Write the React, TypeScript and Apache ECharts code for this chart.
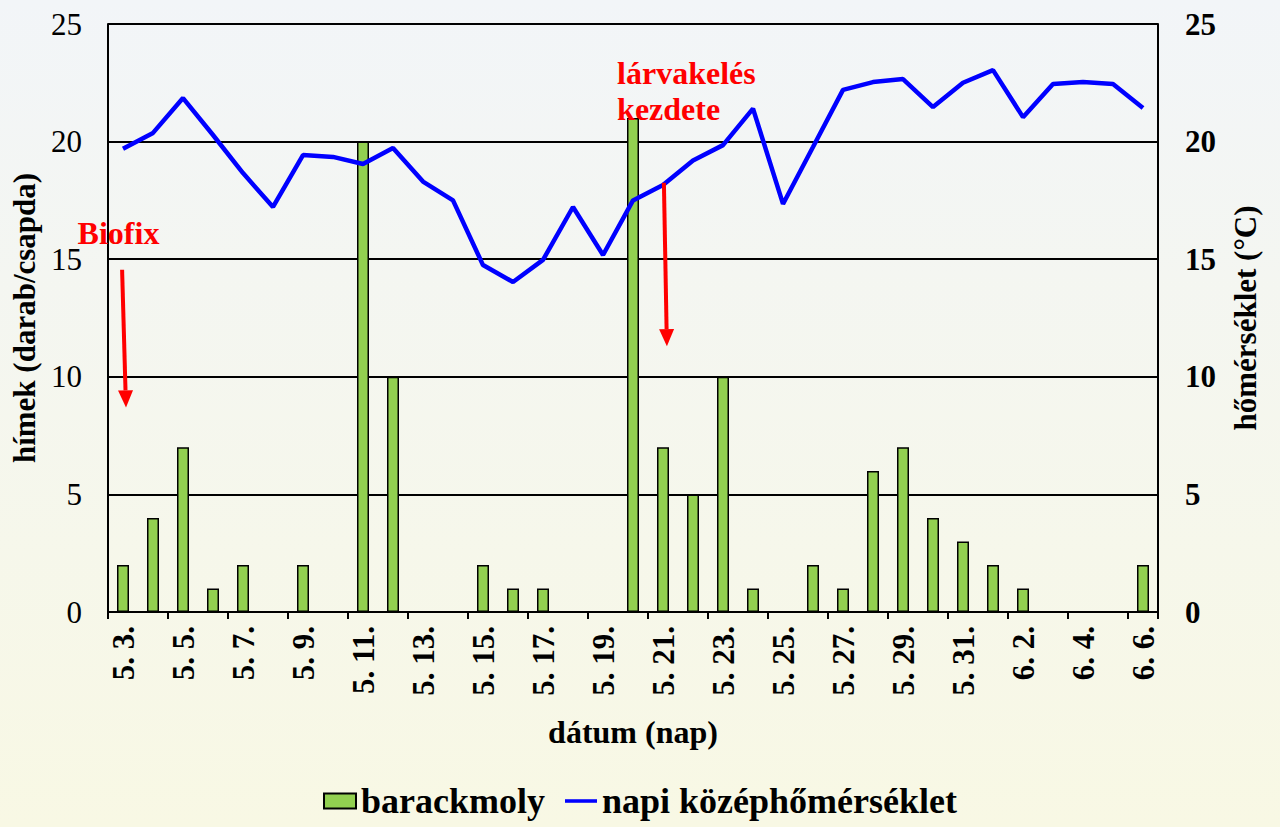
import React, { useEffect, useRef } from "react";
import * as echarts from "echarts";

const dates = [
  "5. 3.", "5. 4.", "5. 5.", "5. 6.", "5. 7.", "5. 8.", "5. 9.", "5. 10.", "5. 11.", "5. 12.",
  "5. 13.", "5. 14.", "5. 15.", "5. 16.", "5. 17.", "5. 18.", "5. 19.", "5. 20.", "5. 21.", "5. 22.",
  "5. 23.", "5. 24.", "5. 25.", "5. 26.", "5. 27.", "5. 28.", "5. 29.", "5. 30.", "5. 31.",
  "6. 1.", "6. 2.", "6. 3.", "6. 4.", "6. 5.", "6. 6.",
];

const mothCounts = [
  2, 4, 7, 1, 2, 0, 2, 0, 20, 10,
  0, 0, 2, 1, 1, 0, 0, 21, 7, 5,
  10, 1, 0, 2, 1, 6, 7, 4, 3,
  2, 1, 0, 0, 0, 2,
];

const meanTemps = [
  19.7, 20.37, 21.85, 20.28, 18.66, 17.22, 19.43, 19.35, 19.05, 19.73,
  18.3, 17.5, 14.75, 14.03, 14.97, 17.22, 15.18, 17.5, 18.15, 19.2,
  19.85, 21.4, 17.35, 19.77, 22.2, 22.53, 22.66, 21.47, 22.5,
  23.04, 21.04, 22.45, 22.53, 22.45, 21.43,
];

const leftTicks = { min: 0, max: 25, interval: 5 };
const rightTicks = { min: 0, max: 25, interval: 5 };

const barName = "barackmoly";
const lineName = "napi középhőmérséklet";
const leftAxisName = "hímek (darab/csapda)";
const rightAxisName = "hőmérséklet (°C)";
const xAxisName = "dátum (nap)";

// annotations: [category index (fractional), value on left axis]
const biofixText = "Biofix";
const biofixTextPos = [-0.15, 16.1];
const biofixArrow = [[-0.03, 14.55], [0.1, 8.7]];
const larvaText = "lárvakelés\nkezdete";
const larvaTextPos = [16.47, 23.7];
const larvaArrow = [[18.03, 18.25], [18.13, 11.3]];

const FONT = "'Liberation Serif', 'Times New Roman', serif";

export default function App() {
  const ref = useRef<HTMLDivElement>(null);

  useEffect(() => {
    if (!ref.current) return;
    const chart = echarts.init(ref.current, null, { renderer: "svg" });
    chart.setOption({
      animation: false,
      backgroundColor: {
        type: "linear", x: 0, y: 0, x2: 0, y2: 1,
        colorStops: [
          { offset: 0, color: "#f2f5f8" },
          { offset: 1, color: "#f8f8e4" },
        ],
      },
      textStyle: { fontFamily: FONT, color: "#000" },
      grid: { left: 108, right: 122, top: 24, bottom: 215, containLabel: false },
      legend: {
        bottom: 3,
        left: "center",
        itemWidth: 32,
        itemHeight: 15,
        itemGap: 20,
        textStyle: { fontFamily: FONT, fontSize: 36, fontWeight: "bold", color: "#000" },
        data: [
          { name: barName, icon: "rect" },
          { name: lineName, icon: "path://M0,0 L36,0 L36,4 L0,4 Z" },
        ],
      },
      xAxis: {
        type: "category",
        data: dates,
        boundaryGap: true,
        name: xAxisName,
        nameLocation: "middle",
        nameGap: 104,
        nameTextStyle: { fontFamily: FONT, fontSize: 32, fontWeight: "bold", color: "#000" },
        axisLine: { show: true, lineStyle: { color: "#000", width: 2 } },
        axisTick: { show: true, interval: 1, length: 7, lineStyle: { color: "#000", width: 2 } },
        axisLabel: {
          interval: 1,
          rotate: 90,
          margin: 14,
          fontFamily: FONT,
          fontSize: 31,
          fontWeight: "bold",
          color: "#000",
        },
        splitLine: { show: false },
      },
      yAxis: [
        {
          type: "value",
          ...leftTicks,
          position: "left",
          name: leftAxisName,
          nameLocation: "middle",
          nameGap: 66,
          nameRotate: 90,
          nameTextStyle: { fontFamily: FONT, fontSize: 31, fontWeight: "bold", color: "#000" },
          axisLine: { show: true, lineStyle: { color: "#000", width: 2 } },
          axisTick: { show: false },
          axisLabel: { margin: 26, fontFamily: FONT, fontSize: 31, color: "#000" },
          splitLine: { show: true, lineStyle: { color: "#000", width: 2 } },
        },
        {
          type: "value",
          ...rightTicks,
          position: "right",
          name: rightAxisName,
          nameLocation: "middle",
          nameGap: 72,
          nameRotate: 90,
          nameTextStyle: { fontFamily: FONT, fontSize: 31, fontWeight: "bold", color: "#000" },
          axisLine: { show: true, lineStyle: { color: "#000", width: 2 } },
          axisTick: { show: false },
          axisLabel: { margin: 27, fontFamily: FONT, fontSize: 31, fontWeight: "bold", color: "#000" },
          splitLine: { show: false },
        },
      ],
      series: [
        {
          name: barName,
          type: "bar",
          yAxisIndex: 0,
          data: mothCounts,
          barWidth: 12,
          itemStyle: { color: "#92d050", borderColor: "#000", borderWidth: 1.5 },
          z: 2,
        },
        {
          name: lineName,
          type: "line",
          yAxisIndex: 1,
          data: meanTemps,
          symbol: "none",
          lineStyle: { color: "#0000ff", width: 4.5 },
          itemStyle: { color: "#0000ff" },
          z: 3,
        },
      ],
    });

    const toPx = (p: number[]) => {
      const i0 = Math.floor(p[0]);
      const a = chart.convertToPixel({ xAxisIndex: 0, yAxisIndex: 0 }, [i0, p[1]]) as number[];
      const b = chart.convertToPixel({ xAxisIndex: 0, yAxisIndex: 0 }, [i0 + 1, p[1]]) as number[];
      const step = b[0] - a[0];
      return [a[0] + (p[0] - i0) * step, a[1]];
    };

    const arrow = (pts: number[][]) => {
      const s = toPx(pts[0]);
      const t = toPx(pts[1]);
      const dx = t[0] - s[0];
      const dy = t[1] - s[1];
      const len = Math.sqrt(dx * dx + dy * dy);
      const ux = dx / len, uy = dy / len;
      const headLen = 17, headHalf = 7.5;
      const bx = t[0] - ux * headLen, by = t[1] - uy * headLen;
      return [
        {
          type: "line",
          shape: { x1: s[0], y1: s[1], x2: bx, y2: by },
          style: { stroke: "#ff0000", lineWidth: 4 },
          z: 10,
        },
        {
          type: "polygon",
          shape: {
            points: [
              [t[0], t[1]],
              [bx - uy * headHalf, by + ux * headHalf],
              [bx + uy * headHalf, by - ux * headHalf],
            ],
          },
          style: { fill: "#ff0000" },
          z: 10,
        },
      ];
    };

    const bt = toPx(biofixTextPos);
    const lt = toPx(larvaTextPos);
    chart.setOption({
      graphic: [
        ...arrow(biofixArrow),
        ...arrow(larvaArrow),
        {
          type: "text",
          x: bt[0],
          y: bt[1],
          style: {
            text: biofixText,
            fill: "#ff0000",
            font: `bold 32px ${FONT}`,
            textAlign: "center",
            textVerticalAlign: "middle",
          },
          z: 10,
        },
        {
          type: "text",
          x: lt[0],
          y: lt[1],
          style: {
            text: larvaText,
            fill: "#ff0000",
            font: `bold 32px ${FONT}`,
            lineHeight: 36,
            textAlign: "left",
            textVerticalAlign: "top",
          },
          z: 10,
        },
      ],
    });

    return () => chart.dispose();
  }, []);

  return (
    <div
      ref={ref}
      style={{ position: "fixed", left: 0, top: 0, width: 1280, height: 827 }}
    />
  );
}
